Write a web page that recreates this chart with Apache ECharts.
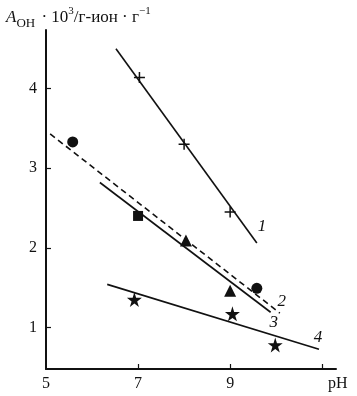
<!DOCTYPE html>
<html>
<head>
<meta charset="utf-8">
<script src="https://cdn.jsdelivr.net/npm/echarts@6/dist/echarts.min.js"></script>
<style>html,body{margin:0;padding:0;background:#fff}#c{width:357px;height:396px}</style>
</head>
<body>
<div id="c"></div>
<script>
// ---- data ----
const xTickLabels = [5, 7, 9];
const xTickMarks = [7, 9, 11];
const yTickLabels = [1, 2, 3, 4];

const curve1 = [[6.52, 4.50], [9.58, 2.06]];
const curve2 = [[5.09, 3.43], [10.08, 1.18]];
const curve3 = [[6.17, 2.82], [9.88, 1.19]];
const curve4 = [[6.33, 1.54], [10.93, 0.725]];

const plusPts = [[7.03, 4.14], [8.0, 3.30], [9.0, 2.45]];
const circlePts = [[5.58, 3.33], [9.58, 1.49]];
const squarePts = [[7.0, 2.40]];
const trianglePts = [[8.04, 2.09], [9.0, 1.46]];
const starPts = [[6.92, 1.35], [9.05, 1.17], [9.98, 0.78]];

const curveNames = ['1', '2', '3', '4'];
const curveLabelAt = [[9.69, 2.27], [10.12, 1.32], [9.95, 1.06], [10.91, 0.87]];

// ---- chart ----
const serif = 'Liberation Serif';
const black = '#111';
const starPath = 'path://M50,0 L61,35 L98,35 L68,57 L79,91 L50,70 L21,91 L32,57 L2,35 L39,35 Z';
const plusPath = 'path://M0,5 L10,5 M5,0 L5,10';

function lineSeries(data, dashed) {
  return {
    type: 'line', data: data, symbol: 'none', silent: true,
    lineStyle: { color: black, width: 1.6, type: dashed ? [6, 4] : 'solid' }
  };
}
function scatterSeries(data, symbol, size, extra) {
  return Object.assign({
    type: 'scatter', data: data, symbol: symbol, symbolSize: size, silent: true,
    itemStyle: { color: black, opacity: 1 }
  }, extra || {});
}

const chart = echarts.init(document.getElementById('c'), null, { renderer: 'canvas' });
chart.setOption({
  animation: false,
  backgroundColor: '#fff',
  title: {
    left: 1, top: 1,
    text: '{a|A}{sub|OH}{n| · 10}{sup|3}{n|/г-ион · г}{sup|−1}',
    textStyle: {
      fontFamily: serif, fontSize: 17, color: black, fontWeight: 'normal',
      rich: {
        a: { fontFamily: serif, fontStyle: 'italic', fontSize: 17, color: black, lineHeight: 24, verticalAlign: 'middle' },
        sub: { fontFamily: serif, fontSize: 13, color: black, lineHeight: 13, verticalAlign: 'bottom', padding: [0, 2, 0, 0] },
        n: { fontFamily: serif, fontSize: 17, color: black, lineHeight: 24, verticalAlign: 'middle' },
        sup: { fontFamily: serif, fontSize: 11, color: black, lineHeight: 11, verticalAlign: 'top' }
      }
    }
  },
  grid: { left: 46, right: 21, top: 30, bottom: 27, containLabel: false },
  xAxis: {
    type: 'value', min: 5, max: 11.3,
    name: 'pH', nameLocation: 'end', nameGap: -8,
    nameTextStyle: { fontFamily: serif, fontSize: 16, color: black, verticalAlign: 'top', padding: [7, 0, 0, 0] },
    axisLine: { show: true, onZero: false, lineStyle: { color: black, width: 2 } },
    axisTick: { show: true, inside: true, length: 5, customValues: xTickMarks, lineStyle: { color: black, width: 1.2 } },
    axisLabel: { customValues: xTickLabels, fontFamily: serif, fontSize: 16, color: black, margin: 7 },
    splitLine: { show: false }
  },
  yAxis: {
    type: 'value', min: 0.477, max: 4.736,
    axisLine: { show: true, onZero: false, lineStyle: { color: black, width: 2 } },
    axisTick: { show: true, inside: true, length: 5, customValues: yTickLabels, lineStyle: { color: black, width: 1.2 } },
    axisLabel: { customValues: yTickLabels, fontFamily: serif, fontSize: 16, color: black, margin: 9 },
    splitLine: { show: false }
  },
  series: [
    lineSeries(curve1, false),
    lineSeries(curve2, true),
    lineSeries(curve3, false),
    lineSeries(curve4, false),
    scatterSeries(plusPts, plusPath, 11, { itemStyle: { color: 'none', borderColor: black, borderWidth: 1.5, opacity: 1 } }),
    scatterSeries(circlePts, 'circle', 11),
    scatterSeries(squarePts, 'rect', 10),
    scatterSeries(trianglePts, 'triangle', 12),
    scatterSeries(starPts, starPath, 15),
    {
      type: 'scatter', symbol: 'circle', symbolSize: 2, silent: true,
      itemStyle: { color: 'rgba(255,255,255,0)', opacity: 1 },
      data: curveLabelAt.map((p, i) => ({ value: p, name: curveNames[i] })),
      label: {
        show: true, position: 'inside', formatter: '{b}',
        fontFamily: serif, fontStyle: 'italic', fontSize: 17, color: black, opacity: 1
      }
    }
  ]
});
</script>
</body>
</html>
